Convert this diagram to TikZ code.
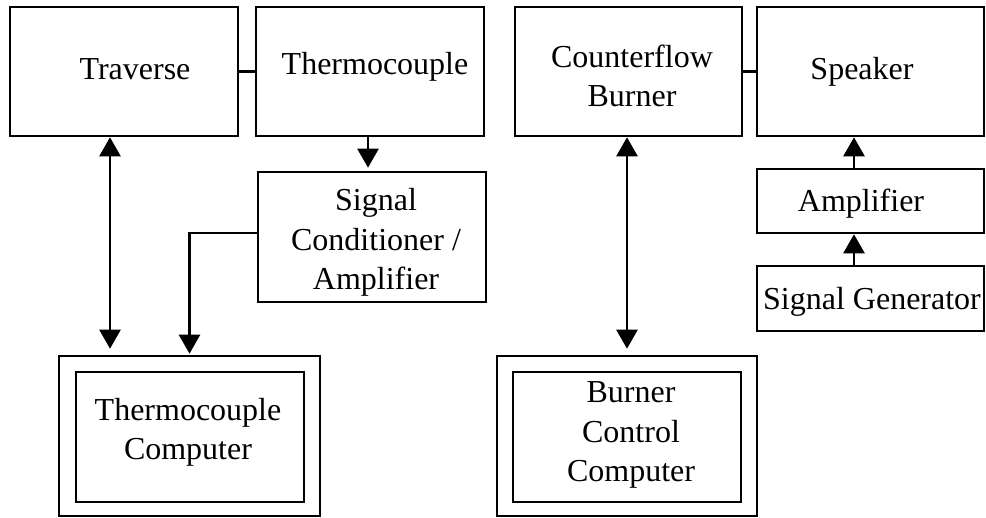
\documentclass[tikz,border=0pt]{standalone}
\usepackage{fontspec}
\setmainfont{Liberation Serif}
\usetikzlibrary{arrows.meta,calc}
\begin{document}
\begin{tikzpicture}[x=1pt,y=-1pt,
  box/.style={draw,line width=2.6pt,rectangle,inner sep=0pt},
  lbl/.style={anchor=base,align=center,inner sep=0pt,font=\fontsize{32}{39.5}\selectfont},
  link/.style={line width=2.6pt},
  arr/.style={line width=2.6pt,-{Triangle[length=19pt,width=21pt]}},
  dbl/.style={line width=2.6pt,{Triangle[length=19pt,width=21pt]}-{Triangle[length=19pt,width=21pt]}}]
\useasboundingbox (0,0) rectangle (986,518);
% boxes
\node[box,minimum width=228pt,minimum height=129pt] (trav) at (124,71.5) {};
\node[box,minimum width=228pt,minimum height=129pt] (thermo) at (370,71.5) {};
\node[box,minimum width=228pt,minimum height=130pt] (sigcond) at (372,237) {};
\node[box,minimum width=227pt,minimum height=129pt] (cfb) at (628.5,71.5) {};
\node[box,minimum width=227pt,minimum height=129pt] (spk) at (870.5,71.5) {};
\node[box,minimum width=227pt,minimum height=64pt] (amp) at (870.5,201) {};
\node[box,minimum width=227pt,minimum height=65pt] (sgen) at (870.5,298.5) {};
\node[box,minimum width=261pt,minimum height=160pt] (tccO) at (189.5,436) {};
\node[box,minimum width=228pt,minimum height=130pt] (tccI) at (190,437) {};
\node[box,minimum width=260pt,minimum height=160pt] (bccO) at (627,436) {};
\node[box,minimum width=228pt,minimum height=130pt] (bccI) at (627,437) {};
% labels (anchor=base is the baseline of the last line)
\node[lbl] (travT) at (135,80) {Traverse};
\node[lbl] (thermoT) at (375,75) {Thermocouple};
\node[lbl] (sigcondT) at (376,290) {Signal\\Conditioner /\\Amplifier};
\node[lbl] (cfbT) at (632,107) {Counterflow\\Burner};
\node[lbl] (spkT) at (862,80) {Speaker};
\node[lbl] (ampT) at (861,212) {Amplifier};
\node[lbl] (sgenT) at (872,310) {Signal Generator};
\node[lbl] (tccT) at (188,460) {Thermocouple\\Computer};
\node[lbl] (bccT) at (631,482) {Burner\\Control\\Computer};
% connectors
\draw[link] (trav.east) -- (thermo.west);
\draw[link] (cfb.east) -- (spk.west);
\draw[arr,shorten >=3pt] ([xshift=-2pt]thermo.south) -- ([xshift=-2pt]thermo.south |- sigcond.north);
\draw[dbl,shorten >=6pt] ([xshift=-14pt]trav.south) -- ([xshift=-14pt]trav.south |- tccO.north);
\draw[arr,shorten >=1pt] ([yshift=4pt]sigcond.west) -| (tccO.north);
\draw[dbl,shorten >=6pt] (cfb.south -| bccO.north) -- (bccO.north);
\draw[arr] ([xshift=-16.5pt]sgen.north) -- ([xshift=-16.5pt]amp.south);
\draw[arr] ([xshift=-16.5pt]amp.north) -- ([xshift=-16.5pt]spk.south);
\end{tikzpicture}
\end{document}
